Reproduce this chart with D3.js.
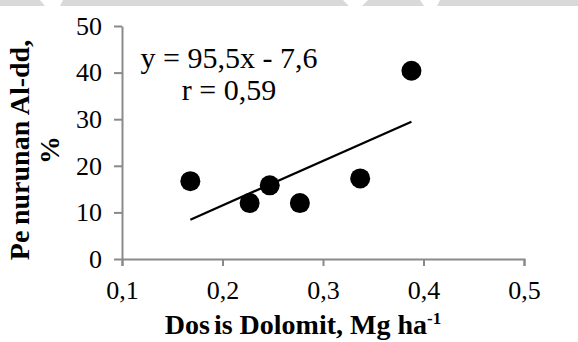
<!DOCTYPE html>
<meta charset="utf-8">
<style>
  body { margin: 0; background: #fff; }
  svg { display: block; font-family: "Liberation Serif", "Times New Roman", serif; }
</style>
<svg width="578" height="342"></svg>
<script src="https://cdn.jsdelivr.net/npm/d3@7"></script>
<script>

// data
var dosis = [0.168, 0.227, 0.247, 0.277, 0.337, 0.388];     // Mg ha-1
var penurunan = [16.7, 12.0, 15.8, 12.0, 17.3, 40.4];       // %
var xTicks = [0.1, 0.2, 0.3, 0.4, 0.5];
var yTicks = [0, 10, 20, 30, 40, 50];
var slope = 95.5, intercept = -7.6;
var eqLines = ["y = 95,5x - 7,6", "r = 0,59"];

var svg = d3.select("svg");

// light watermark strip at the top edge
svg.append("rect")
    .attr("x", 0).attr("y", 0)
    .attr("width", 578).attr("height", 6)
    .attr("fill", "#d9d9d9");
svg.append("path")   // white gaps in the strip
    .attr("d", "M40,0L63,0L60,6L45,6Z M343,0L368,0L362,6L349,6Z M420,0L440,0L437,6L424,6Z")
    .attr("fill", "#fff");

var x = d3.scaleLinear().domain([0.1, 0.5]).range([122, 524]);
var y = d3.scaleLinear().domain([0, 50]).range([259, 26]);

var comma = function(d) { return d.toFixed(1).replace(".", ","); };

// y axis
var gy = svg.append("g")
    .attr("transform", "translate(122,0)")
    .call(d3.axisLeft(y).tickValues(yTicks).tickSize(8).tickSizeOuter(0).tickPadding(12));

// x axis
var gx = svg.append("g")
    .attr("transform", "translate(0,259)")
    .call(d3.axisBottom(x).tickValues(xTicks).tickFormat(comma).tickSize(7).tickSizeOuter(7).tickPadding(15));

svg.selectAll(".domain, .tick line")
    .attr("stroke", "#8a8a8a")
    .attr("stroke-width", 2);
svg.selectAll(".tick text")
    .attr("fill", "#000")
    .style("font-family", "'Liberation Serif', 'Times New Roman', serif")
    .style("font-size", "26px");

// trend line over the data range
var xr = d3.extent(dosis);
svg.append("line")
    .attr("x1", x(xr[0])).attr("y1", y(slope * xr[0] + intercept))
    .attr("x2", x(xr[1])).attr("y2", y(slope * xr[1] + intercept))
    .attr("stroke", "#000")
    .attr("stroke-width", 2.2);

// points
svg.append("g").selectAll("circle")
    .data(dosis)
    .enter().append("circle")
    .attr("cx", function(d) { return x(d); })
    .attr("cy", function(d, i) { return y(penurunan[i]); })
    .attr("r", 10)
    .attr("fill", "#000");

// equation
svg.append("g").selectAll("text")
    .data(eqLines)
    .enter().append("text")
    .attr("x", 229)
    .attr("y", function(d, i) { return 68 + i * 32; })
    .attr("text-anchor", "middle")
    .attr("font-size", "30px")
    .text(function(d) { return d; });

// x title
var xt = svg.append("text")
    .attr("x", 303).attr("y", 334)
    .attr("text-anchor", "middle")
    .attr("font-weight", "bold")
    .attr("font-size", "28px");
xt.append("tspan").text("Dos");
xt.append("tspan").attr("dx", 4).text("is Dolomit, Mg ha");
xt.append("tspan").attr("font-size", "17px").attr("dy", -10).text("-1");

// y title, two lines
var yt = svg.append("text")
    .attr("transform", "translate(29,150) rotate(-90)")
    .attr("text-anchor", "middle")
    .attr("font-weight", "bold")
    .attr("font-size", "28px");
yt.append("tspan").attr("x", 0).attr("y", 0).text("Pe\u2009nurunan Al-dd,");
yt.append("tspan").attr("x", 0).attr("y", 30).text("%");

</script>
